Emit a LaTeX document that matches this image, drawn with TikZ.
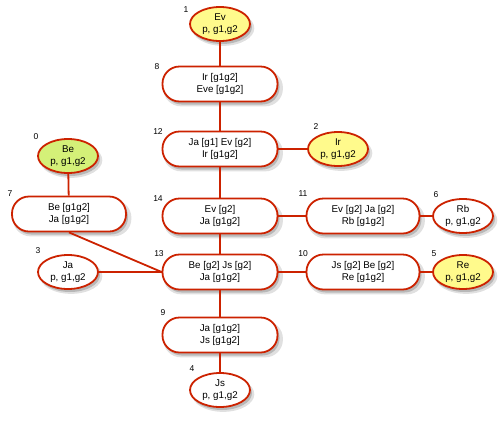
\documentclass[tikz,border=0pt]{standalone}
\usepackage{fontspec}
\setmainfont{Liberation Sans}
\usetikzlibrary{shapes.geometric,shadows}
\definecolor{edgered}{RGB}{204,34,0}
\definecolor{ylw}{RGB}{255,250,140}
\definecolor{grn}{RGB}{212,240,120}
\begin{document}
\begin{tikzpicture}[x=1pt,y=-1pt,
  font=\fontsize{9.8}{12}\selectfont,
  shad/.style={
    drop shadow={shadow xshift=3pt,shadow yshift=-4pt,shadow scale=1.04,opacity=0.12,fill=black},
    drop shadow={shadow xshift=2pt,shadow yshift=-3pt,opacity=0.18,fill=black}},
  rbox/.style={draw=edgered,line width=1.8pt,fill=white,rounded corners=17pt,minimum width=115pt,minimum height=35pt,inner sep=0pt,align=center,shad},
  ell/.style={ellipse,draw=edgered,line width=1.8pt,fill=white,minimum width=60pt,minimum height=34pt,inner sep=0pt,align=center,shad},
  yell/.style={ell,fill=ylw},
  gell/.style={ell,fill=grn},
  num/.style={inner sep=0pt,font=\fontsize{8.5}{9}\selectfont},
  conn/.style={draw=edgered,line width=1.8pt}]
\useasboundingbox (0,0) rectangle (504,424);
% nodes
\node[yell] (n1) at (220,24) {Ev\\p, g1,g2};
\node[rbox] (n8) at (220,84) {Ir [g1g2]\\Eve [g1g2]};
\node[rbox] (n12) at (220,149) {Ja [g1] Ev [g2]\\Ir [g1g2]};
\node[yell] (n2) at (338,149) {Ir\\p, g1,g2};
\node[rbox] (n14) at (220,216) {Ev [g2]\\Ja [g1g2]};
\node[rbox,minimum width=113pt] (n11) at (363,216) {Ev [g2] Ja [g2]\\Rb [g1g2]};
\node[ell] (n6) at (463,216) {Rb\\p, g1,g2};
\node[rbox] (n13) at (220,272) {Be [g2] Js [g2]\\Ja [g1g2]};
\node[rbox,minimum width=113pt] (n10) at (363,272) {Js [g2] Be [g2]\\Re [g1g2]};
\node[yell] (n5) at (463,272) {Re\\p, g1,g2};
\node[rbox] (n9) at (220,335) {Ja [g1g2]\\Js [g1g2]};
\node[ell] (n4) at (220,390) {Js\\p, g1,g2};
\node[gell] (n0) at (68,156) {Be\\p, g1,g2};
\node[rbox,minimum width=114pt] (n7) at (69,214) {Be [g1g2]\\Ja [g1g2]};
\node[ell] (n3) at (68,272) {Ja\\p, g1,g2};
% number labels
\node[num] (l1) at (186,10) {1};
\node[num] (l8) at (157,67) {8};
\node[num] (l12) at (158,132) {12};
\node[num] (l2) at (316,127) {2};
\node[num] (l14) at (158,199) {14};
\node[num] (l11) at (303,194) {11};
\node[num] (l6) at (436,195) {6};
\node[num] (l13) at (159,254) {13};
\node[num] (l10) at (303,254) {10};
\node[num] (l5) at (434,254) {5};
\node[num] (l9) at (163,313) {9};
\node[num] (l4) at (192,369) {4};
\node[num] (l0) at (36,137) {0};
\node[num] (l7) at (10,194) {7};
\node[num] (l3) at (38,251) {3};
% connectors
\path[conn] (n1) -- (n8);
\path[conn] (n8) -- (n12);
\path[conn] (n12) -- (n2);
\path[conn] (n12) -- (n14);
\path[conn] (n14) -- (n11);
\path[conn] (n11) -- (n6);
\path[conn] (n14) -- (n13);
\path[conn] (n13) -- (n10);
\path[conn] (n10) -- (n5);
\path[conn] (n13) -- (n9);
\path[conn] (n9) -- (n4);
\path[conn] (n0) -- (n7);
\path[conn] (n3) -- (n13);
\path[conn] (n7.south) -- (n13.west);
\end{tikzpicture}
\end{document}
